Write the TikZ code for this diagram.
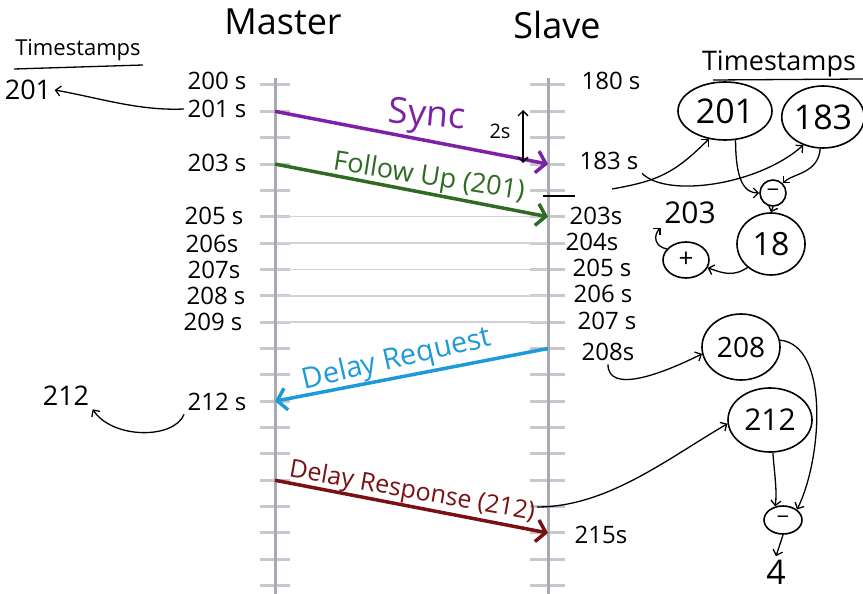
\documentclass[tikz,border=0pt]{standalone}
\usepackage{fontspec}
\setmainfont{Open Sans}
\usetikzlibrary{arrows.meta,shapes.geometric}
\definecolor{syncc}{HTML}{7D22A6}
\definecolor{followc}{HTML}{2F6B22}
\definecolor{reqc}{HTML}{1E9AD8}
\definecolor{respc}{HTML}{7B1012}
\definecolor{linec}{HTML}{A9A9B3}
\definecolor{tickc}{HTML}{C8C8CC}
\newcommand{\fsz}[1]{\fontsize{#1}{#1}\selectfont}

\begin{document}
\begin{tikzpicture}[x=1pt,y=1pt,
  timeline/.style={draw=linec, line width=3},
  tickmark/.style={draw=tickc, line width=3},
  gridline/.style={draw=tickc!80, line width=1.4},
  msg/.style={line width=3.5, -{Straight Barb[length=9pt,width=22pt]}},
  note/.style={line width=1.3, -{Straight Barb[length=5pt,width=10pt]}},
  pen/.style={line width=1.3},
  ts/.style={font=\fsz{24}},
  bubble/.style={draw, line width=1.6, ellipse, inner sep=0pt},
]
  \useasboundingbox (0,0) rectangle (863,-594);

  % time lines
  \foreach \k in {0,...,19}{
    \pgfmathsetmacro\ty{-85-26.35*\k}
    \draw[tickmark] (260,\ty) -- (290,\ty);
    \draw[tickmark] (530,\ty) -- (565,\ty);
    \coordinate (m\k) at (275,\ty);
    \coordinate (s\k) at (548,\ty);
  }
  \foreach \k in {5,...,9}
    \draw[gridline] (m\k) -- (s\k);
  \coordinate (mtop) at (275,-78);
  \coordinate (mbot) at (275,-594);
  \coordinate (stop) at (548,-78);
  \coordinate (sbot) at (548,-594);
  \draw[timeline] (mtop) -- (mbot);
  \draw[timeline] (stop) -- (sbot);

  \node[font=\fsz{36}] (master) at (283,-22) {Master};
  \node[font=\fsz{36}] (slave)  at (557,-25) {Slave};

  % master clock
  \node[ts] (l200) at (217,-81)  {200 s};
  \node[ts] (l201) at (217,-109) {201 s};
  \node[ts] (l203) at (217,-163) {203 s};
  \node[ts] (l205) at (214,-216) {205 s};
  \node[ts] (l206) at (212,-244) {206s};
  \node[ts] (l207) at (214,-270) {207s};
  \node[ts] (l208) at (216,-296) {208 s};
  \node[ts] (l209) at (213,-322) {209 s};
  \node[ts] (l212) at (217,-402) {212 s};

  % slave clock
  \node[ts] (r180) at (611,-81)  {180 s};
  \node[ts] (r183) at (609,-161) {183 s};
  \node[ts] (r203) at (596,-216) {203s};
  \node[ts] (r204) at (592,-242) {204s};
  \node[ts] (r205) at (602,-268) {205 s};
  \node[ts] (r206) at (603,-294) {206 s};
  \node[ts] (r207) at (607,-321) {207 s};
  \node[ts] (r208) at (608,-352) {208s};
  \node[ts] (r215) at (601,-535) {215s};

  % messages
  \draw[msg, syncc]   (m1)  -- (s3);
  \draw[msg, followc] (m3)  -- (s5);
  \draw[msg, reqc]    (s10) -- (m12);
  \draw[msg, respc]   (m15) -- (s17);

  \node[syncc, font=\fsz{36}, rotate=-5]   (sync)   at (427,-117) {Sync};
  \node[followc, font=\fsz{27}, rotate=-9] (follow) at (429,-178) {Follow Up (201)};
  \node[reqc, font=\fsz{29}, rotate=13]    (req)    at (397,-360) {Delay Request};
  \node[respc, font=\fsz{25}, rotate=-10]  (resp)   at (412,-492) {Delay Response (212)};

  \coordinate (twoA) at (523,-110);
  \coordinate (twoB) at (523,-163);
  \draw[pen, {Straight Barb[length=5pt,width=10pt]}-{Straight Barb[length=5pt,width=10pt]}] (twoB) -- (twoA);
  \node[font=\fsz{20}] (two) at (500,-131) {2s};

  % master side timestamps
  \node[font=\fsz{22}] (tsl) at (78,-50) {Timestamps};
  \coordinate (ulA) at (14,-69);
  \coordinate (ulB) at (143,-65);
  \draw[pen] (ulA) -- (ulB);
  \node[font=\fsz{27}] (t201) at (28,-90)  {201};
  \node[font=\fsz{27}] (t212) at (66,-396) {212};
  \draw[note] (l201.west) .. controls +(-45,-2) and +(45,-8) .. (t201.east);
  \draw[note] (l212.south west) .. controls +(-10,-25) and +(20,-30) .. (t212.south east);

  % slave side timestamps
  \node[font=\fsz{27}] (tsr) at (779,-64) {Timestamps};
  \coordinate (urA) at (713,-80);
  \coordinate (urB) at (863,-79);
  \draw[pen] (urA) -- (urB);

  \node[bubble, minimum width=94, minimum height=58, font=\fsz{34}] (c201) at (725,-111) {201};
  \node[bubble, minimum width=82, minimum height=62, font=\fsz{34}] (c183) at (823,-117) {183};
  \node[bubble, minimum size=26, font=\fsz{22}] (d1) at (773,-193) {−};
  \node[bubble, minimum width=68, minimum height=62, font=\fsz{32}] (c18) at (771,-244) {18};
  \node[bubble, minimum width=46, minimum height=36, font=\fsz{26}] (plus) at (686,-260) {+};
  \node[font=\fsz{30}] (t203) at (690,-213) {203};

  \coordinate (fuA) at (543,-196);
  \coordinate (fuB) at (575,-196);
  \coordinate (fuC) at (612,-189);
  \draw[pen] (fuA) -- (fuB);
  \draw[note] (fuC) .. controls +(45,8) and +(-35,-35) .. (c201.240);
  \draw[note] (r183.south east) .. controls +(25,-25) and +(-45,-40) .. (c183.235);
  \draw[note] (c201.290) .. controls +(0,-40) and +(-15,0) .. (d1.west);
  \draw[note] (c183.265) .. controls +(-2,-25) and +(10,10) .. (d1.north east);
  \draw[note] (d1.south) -- (c18.north);
  \draw[note] (c18.225) .. controls +(-15,-10) and +(15,-5) .. (plus.-20);
  \draw[note] (plus.150) .. controls +(-12,2) and +(-8,-8) .. (t203.south west);

  \node[bubble, minimum width=78, minimum height=66, font=\fsz{28}] (c208) at (741,-347) {208};
  \node[bubble, minimum width=84, minimum height=64, font=\fsz{30}] (c212) at (770,-420) {212};
  \node[bubble, minimum width=38, minimum height=28, font=\fsz{22}] (d2) at (783,-520) {−};
  \node[font=\fsz{34}] (r4) at (776,-572) {4};

  \coordinate (drA) at (537,-507);
  \draw[note] (r208.south) .. controls +(0,-30) and +(-40,-20) .. (c208.190);
  \draw[note] (drA) .. controls +(70,0) and +(-60,-35) .. (c212.185);
  \draw[note] (c208.10) .. controls +(50,-5) and +(25,50) .. (d2.north east);
  \draw[note] (c212.275) .. controls +(2,-25) and +(2,15) .. (d2.120);
  \draw[note] (d2.south) -- (r4.north);
\end{tikzpicture}
\end{document}
